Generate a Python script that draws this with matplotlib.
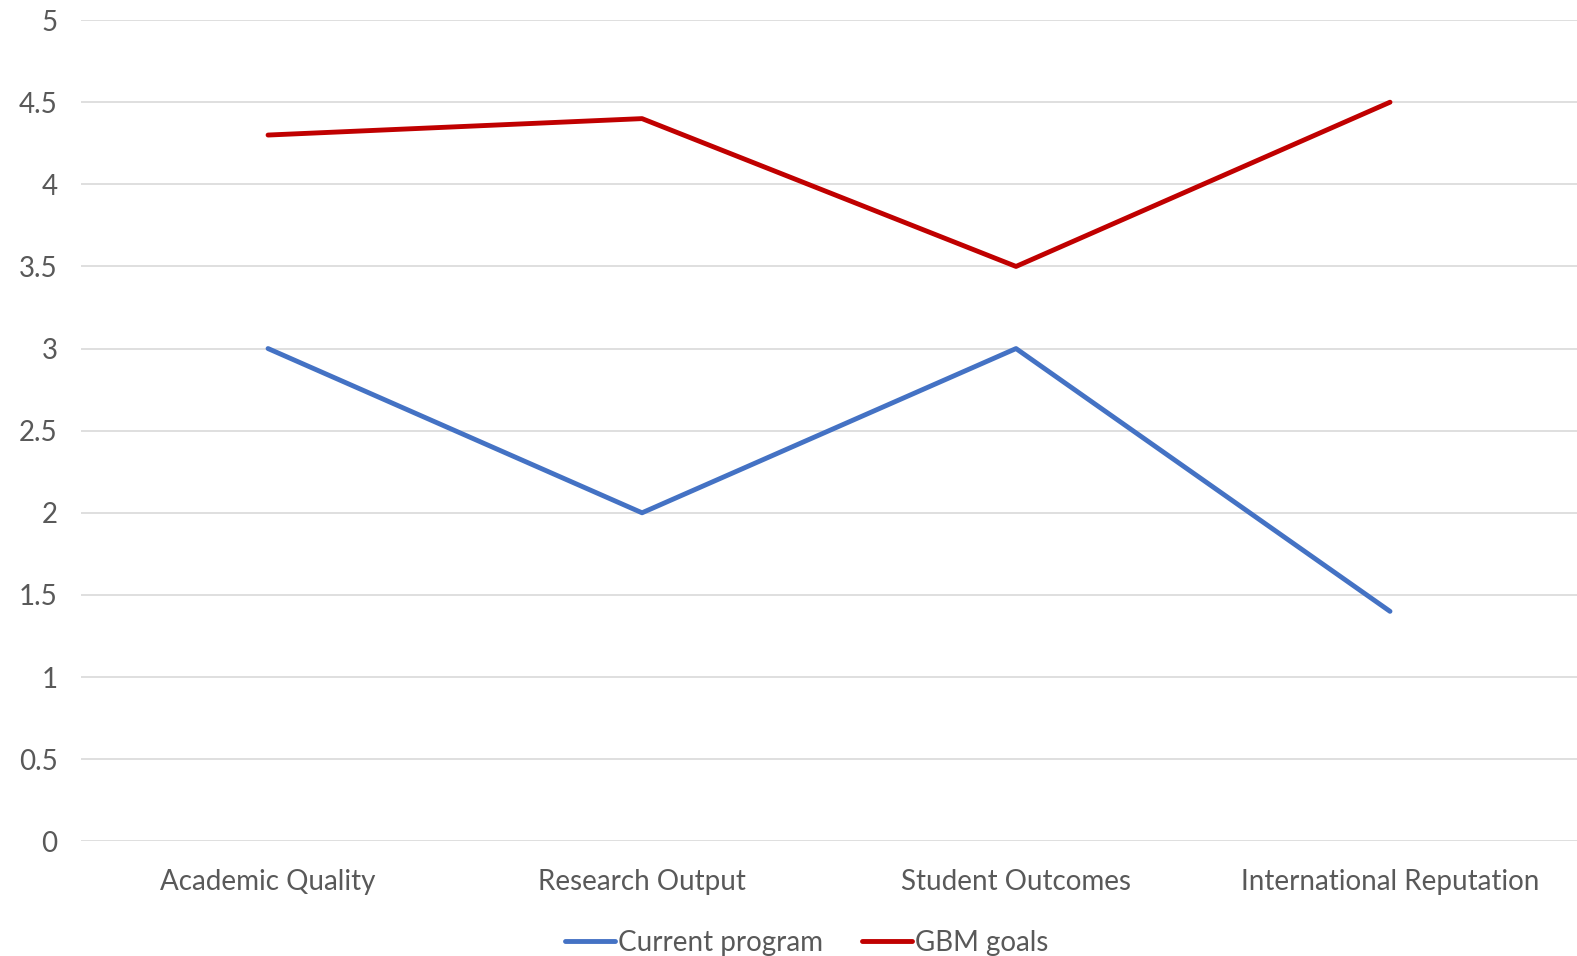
import matplotlib.pyplot as plt

categories = ['Academic Quality', 'Research Output', 'Student Outcomes', 'International Reputation']
current_program = [3, 2, 3, 1.4]
gbm_goals = [4.3, 4.4, 3.5, 4.5]
y_ticks = [0, 0.5, 1, 1.5, 2, 2.5, 3, 3.5, 4, 4.5, 5]

plt.rcParams['font.family'] = ['Lato', 'DejaVu Sans']

fig = plt.figure(figsize=(15.77, 9.56), dpi=100)
ax = fig.add_axes([0.0514, 0.12, 0.9486, 0.859])

x = list(range(len(categories)))
ax.plot(x, current_program, color='#4472C4', linewidth=3.5, label='Current program', solid_capstyle='round')
ax.plot(x, gbm_goals, color='#C00000', linewidth=3.5, label='GBM goals', solid_capstyle='round')

ax.set_xlim(-0.5, len(categories) - 0.5)
ax.set_ylim(0, 5)
ax.set_yticks(y_ticks)
ax.set_yticklabels([('%g' % v) for v in y_ticks])
ax.set_xticks(x)
ax.set_xticklabels(categories)
ax.grid(axis='y', color='#D9D9D9', linewidth=1.2)
ax.set_axisbelow(True)
for s in ax.spines.values():
    s.set_visible(False)
ax.tick_params(axis='both', length=0, labelsize=20, colors='#595959')
ax.tick_params(axis='y', pad=17)
ax.tick_params(axis='x', pad=20)

ax.legend(loc='center', bbox_to_anchor=(0.485, -0.124), ncol=2, frameon=False,
          fontsize=20, labelcolor='#595959', handlelength=1.8, handletextpad=0.1,
          columnspacing=1.4)

fig.savefig('out.png', dpi=100)
